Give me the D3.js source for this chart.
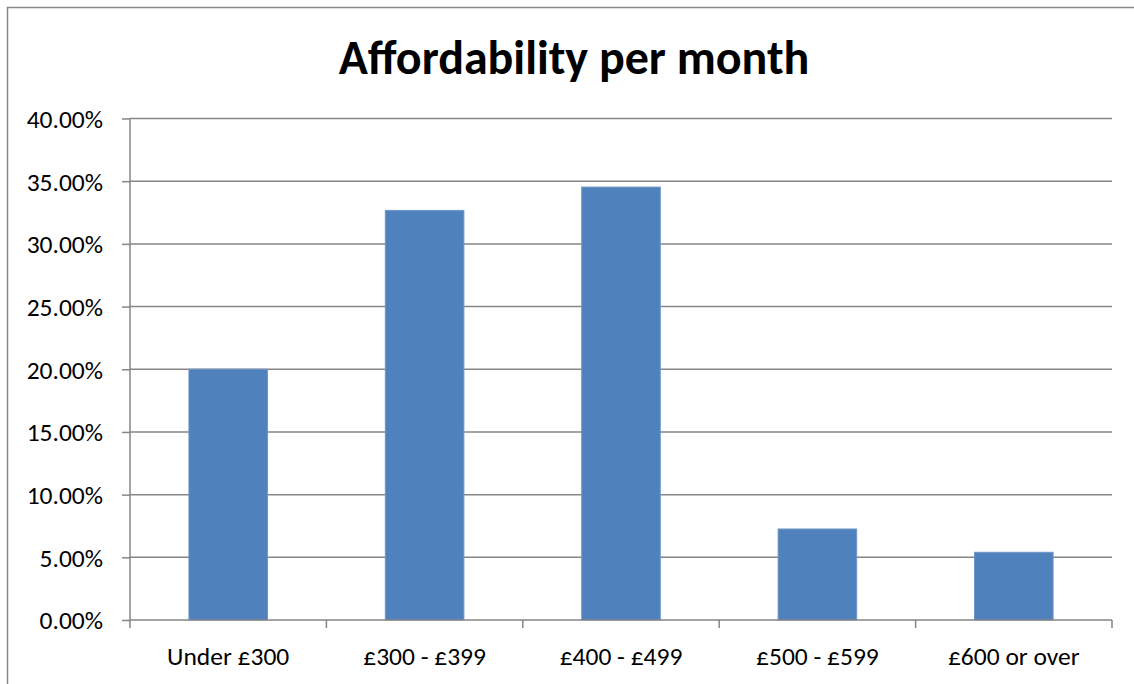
<!DOCTYPE html>
<meta charset="utf-8">
<style>
body { margin: 0; background: #fff; }
text { font-family: Carlito, "Open Sans", "Liberation Sans", sans-serif; fill: #000; }
.grid line { stroke: #868686; stroke-width: 1.5; }
.axis path, .axis line { stroke: #868686; stroke-width: 1.5; }
</style>
<svg width="1134" height="684"></svg>
<script src="https://d3js.org/d3.v7.min.js"></script>
<script>

var categories = ["Under £300", "£300 - £399", "£400 - £499", "£500 - £599", "£600 or over"];
var shares = [0.2000, 0.3267, 0.3453, 0.0726, 0.0540];
var yTicks = [0, 0.05, 0.10, 0.15, 0.20, 0.25, 0.30, 0.35, 0.40];

var svg = d3.select("svg"),
    margin = {top: 118.5, right: 22, bottom: 64, left: 130},
    width = 1134 - margin.left - margin.right,
    height = 684 - margin.top - margin.bottom;

// outer chart frame (cut off on right and bottom like the reference)
svg.append("rect")
    .attr("x", 7.5).attr("y", 7.5)
    .attr("width", 1140).attr("height", 700)
    .attr("fill", "none").attr("stroke", "#868686").attr("stroke-width", 1.5);

svg.append("text")
    .attr("x", 574).attr("y", 74)
    .attr("text-anchor", "middle")
    .style("font-size", "48px").style("font-weight", "bold")
    .text("Affordability per month");

var x = d3.scaleBand().domain(categories).range([0, width]).paddingInner(0.6).paddingOuter(0.3);
var xEdge = d3.scaleLinear().domain([0, categories.length]).range([0, width]);
var y = d3.scaleLinear().domain([0, 0.40]).range([height, 0]);

var g = svg.append("g").attr("transform", "translate(" + margin.left + "," + margin.top + ")");

g.append("g").attr("class", "grid")
  .selectAll("line").data(yTicks.slice(1)).enter().append("line")
    .attr("x1", 0).attr("x2", width)
    .attr("y1", function(d) { return y(d); }).attr("y2", function(d) { return y(d); });

g.selectAll(".bar").data(shares).enter().append("rect")
    .attr("class", "bar")
    .attr("x", function(d, i) { return x(categories[i]); })
    .attr("width", x.bandwidth())
    .attr("y", function(d) { return y(d); })
    .attr("height", function(d) { return height - y(d); })
    .attr("fill", "#4f81bd")
    .attr("stroke", "#6f97c9").attr("stroke-width", 1);

// y axis
var yAxis = g.append("g").attr("class", "axis")
    .call(d3.axisLeft(y).tickValues(yTicks).tickSize(8).tickPadding(19)
      .tickFormat(function(d) { return (d * 100).toFixed(2) + "%"; }));
yAxis.select(".domain").attr("d", "M0," + y(0.40) + "V" + height);
yAxis.selectAll("text").style("font-size", "25.5px").attr("dy", "0.35em");

// x axis with ticks at category boundaries
var xg = g.append("g").attr("class", "axis").attr("transform", "translate(0," + height + ")");
xg.append("line").attr("x1", 0).attr("x2", width).attr("y1", 0).attr("y2", 0);
xg.selectAll(".tk").data(d3.range(categories.length + 1)).enter().append("line")
    .attr("x1", function(d) { return xEdge(d); }).attr("x2", function(d) { return xEdge(d); })
    .attr("y1", 0).attr("y2", 8);
xg.selectAll("text").data(categories).enter().append("text")
    .attr("x", function(d) { return x(d) + x.bandwidth() / 2; })
    .attr("y", 45)
    .attr("text-anchor", "middle")
    .style("font-size", "25.5px")
    .text(function(d) { return d; });

</script>
